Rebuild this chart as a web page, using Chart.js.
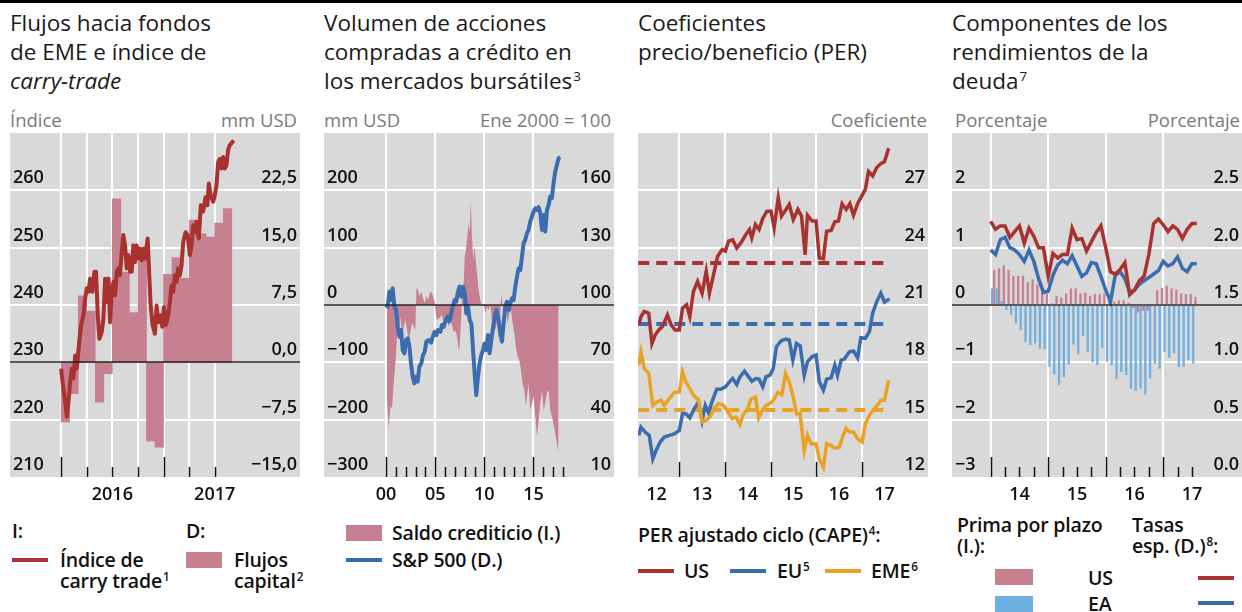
<!DOCTYPE html>
<html>
<head>
<meta charset="utf-8">
<script src="https://cdn.jsdelivr.net/npm/chart.js@4.4.1/dist/chart.umd.min.js"></script>
<style>
  html, body { margin: 0; padding: 0; background: #fff; }
  body { width: 1242px; height: 612px; position: relative; overflow: hidden; font-family: "Open Sans", sans-serif; color: #111; }
  .rule { position: absolute; left: 0; top: 0; width: 1242px; height: 3px; background: #000; }
  .title { position: absolute; top: 8px; font-size: 22.5px; line-height: 29px; color: #1a1a1a; white-space: nowrap; }
  .unit { position: absolute; top: 108px; font-size: 18.5px; line-height: 24px; color: #7a7a7a; white-space: nowrap; }
  canvas { position: absolute; top: 133px; }
  .leg { position: absolute; font-size: 19.5px; font-weight: 600; line-height: 21px; color: #111; white-space: nowrap; letter-spacing: -0.2px; }
  .sw { position: absolute; }
  sup { font-size: 0.6em; line-height: 0; vertical-align: baseline; position: relative; top: -0.6em; margin-left: 1px; }
</style>
</head>
<body>
<div class="rule"></div>

<div class="title" style="left:10px">Flujos hacia fondos<br>de EME e índice de<br><i>carry-trade</i></div>
<div class="title" style="left:324px">Volumen de acciones<br>compradas a crédito en<br>los mercados bursátiles<sup>3</sup></div>
<div class="title" style="left:638px">Coeficientes<br>precio/beneficio (PER)</div>
<div class="title" style="left:952px">Componentes de los<br>rendimientos de la<br>deuda<sup>7</sup></div>

<div class="unit" style="left:10px">Índice</div>
<div class="unit" style="right:945px">mm USD</div>
<div class="unit" style="left:324px">mm USD</div>
<div class="unit" style="right:631px">Ene 2000 = 100</div>
<div class="unit" style="right:315px">Coeficiente</div>
<div class="unit" style="left:955px">Porcentaje</div>
<div class="unit" style="right:2px">Porcentaje</div>

<canvas id="c1" width="290" height="377" style="left:10px"></canvas>
<canvas id="c2" width="290" height="377" style="left:324px"></canvas>
<canvas id="c3" width="290" height="377" style="left:638px"></canvas>
<canvas id="c4" width="290" height="377" style="left:952px"></canvas>

<!-- legends -->
<div class="leg" style="left:12px;top:520px">I:</div>
<div class="leg" style="left:186px;top:520px">D:</div>
<div class="sw" style="left:12px;top:558px;width:36px;height:4px;background:#a8322f"></div>
<div class="leg" style="left:60px;top:549px">Índice de<br>carry trade<sup>1</sup></div>
<div class="sw" style="left:186px;top:552px;width:36px;height:16px;background:#c6808f"></div>
<div class="leg" style="left:234px;top:549px">Flujos<br>capital<sup>2</sup></div>

<div class="sw" style="left:346px;top:525px;width:36px;height:16px;background:#c6808f"></div>
<div class="leg" style="left:392px;top:522px">Saldo crediticio (I.)</div>
<div class="sw" style="left:346px;top:558px;width:36px;height:4px;background:#3b6cb0"></div>
<div class="leg" style="left:392px;top:549px">S&amp;P 500 (D.)</div>

<div class="leg" style="left:638px;top:524px">PER ajustado ciclo (CAPE)<sup>4</sup>:</div>
<div class="sw" style="left:638px;top:569px;width:36px;height:4px;background:#a8322f"></div>
<div class="leg" style="left:684px;top:560px">US</div>
<div class="sw" style="left:730px;top:569px;width:36px;height:4px;background:#3b6cb0"></div>
<div class="leg" style="left:777px;top:560px">EU<sup>5</sup></div>
<div class="sw" style="left:825px;top:569px;width:36px;height:4px;background:#eaa224"></div>
<div class="leg" style="left:871px;top:560px">EME<sup>6</sup></div>

<div class="leg" style="left:957px;top:514px">Prima por plazo<br>(I.):</div>
<div class="leg" style="left:1132px;top:514px">Tasas<br>esp. (D.)<sup>8</sup>:</div>
<div class="sw" style="left:995px;top:569px;width:38px;height:16px;background:#c6808f"></div>
<div class="leg" style="left:1088px;top:567px">US</div>
<div class="sw" style="left:1198px;top:576px;width:36px;height:4px;background:#a8322f"></div>
<div class="sw" style="left:995px;top:596px;width:38px;height:16px;background:#6fb0e2"></div>
<div class="leg" style="left:1088px;top:593px">EA</div>
<div class="sw" style="left:1198px;top:601px;width:36px;height:4px;background:#3b6cb0"></div>

<script>
// ---- panel 1: EME fund flows (monthly, from Jan 2016) and carry-trade index ----
const flowValues = [-7.8, -4.1, 8.7, 6.7, -5.2, -1.5, 21.4, 11.8, 6.5, 14.5, -10.3, -11.1,
  11.5, 13.7, 11.0, 18.6, 16.8, 16.4, 18.2, 20.1];
// months since Jan 2016
const carryMonths = [0, 0.16, 0.47, 0.66, 0.86, 1.05, 1.25, 1.44, 1.64, 1.83,
  2.11, 2.34, 2.61, 2.81, 3.00, 3.20, 3.39, 3.66, 3.90, 4.09,
  4.29, 4.48, 4.76, 4.95, 5.15, 5.34, 5.54, 5.73, 5.93, 6.12,
  6.32, 6.51, 6.71, 6.90, 7.10, 7.29, 7.49, 7.68, 7.88, 8.07,
  8.27, 8.46, 8.66, 8.85, 9.05, 9.24, 9.44, 9.63, 9.83, 10.14,
  10.29, 10.49, 10.72, 10.99, 11.19, 11.38, 11.70, 11.85, 12.05, 12.28,
  12.55, 12.75, 12.94, 13.14, 13.33, 13.53, 13.72, 13.92, 14.11, 14.31,
  14.58, 14.82, 15.09, 15.28, 15.48, 15.67, 15.87, 16.14, 16.37, 16.65,
  16.92, 17.15, 17.31, 17.54, 17.82, 18.01, 18.21, 18.40, 18.60, 18.79,
  18.99, 19.18, 19.38, 19.57, 19.77, 19.96, 20.23];
const carryIndex = [228.9, 226.6, 223.1, 220.5, 223.1, 226.6, 228.9, 227.2, 231.2, 228.9,
  233.5, 236.5, 238.2, 241.1, 242.9, 242.3, 244.6, 242.3, 245.8, 245.8,
  238.2, 234.1, 235.3, 237.6, 244.6, 240.5, 244.6, 237.0, 242.3, 244.0,
  241.7, 245.8, 246.4, 245.2, 249.2, 252.2, 250.4, 246.4, 248.7, 245.8,
  245.8, 250.4, 247.5, 250.4, 248.1, 249.8, 247.8, 249.8, 248.1, 251.6,
  246.4, 239.9, 236.5, 235.0, 239.9, 237.0, 238.2, 236.2, 239.6, 236.5,
  238.2, 240.5, 243.4, 242.3, 245.2, 244.0, 246.4, 245.2, 246.9, 251.0,
  252.7, 252.2, 248.7, 250.4, 253.9, 252.7, 254.5, 251.6, 257.4, 256.3,
  258.8, 257.4, 261.2, 259.1, 258.0, 259.1, 260.9, 264.9, 265.5, 263.8,
  265.8, 263.8, 264.4, 267.0, 267.9, 268.2, 268.7];
const p1YearLabels = { 6: '2016', 18: '2017' };

// ---- panel 2: margin debt balance and S&P 500 ----
const marginYears = [2000.10, 2000.27, 2000.44, 2000.61, 2000.78, 2000.95, 2001.12, 2001.29, 2001.46,
  2001.63, 2001.80, 2001.97, 2002.14, 2002.31, 2002.48, 2002.65, 2002.82, 2002.98, 2003.09,
  2003.26, 2003.43, 2003.59, 2003.76, 2003.93, 2004.10, 2004.27, 2004.44, 2004.61, 2004.78,
  2004.95, 2005.09, 2005.25, 2005.42, 2005.69, 2005.86, 2006.03, 2006.20, 2006.37, 2006.54,
  2006.71, 2006.88, 2007.05, 2007.22, 2007.39, 2007.49, 2007.63, 2007.73, 2007.90, 2008.00,
  2008.13, 2008.27, 2008.40, 2008.51, 2008.64, 2008.74, 2008.88, 2009.01, 2009.15, 2009.29,
  2009.42, 2009.59, 2009.76, 2009.93, 2010.10, 2010.27, 2010.44, 2010.61, 2010.78, 2010.95,
  2011.12, 2011.28, 2011.45, 2011.62, 2011.72, 2011.86, 2012.03, 2012.20, 2012.37, 2012.54,
  2012.71, 2012.88, 2013.05, 2013.22, 2013.38, 2013.55, 2013.72, 2013.89, 2014.06, 2014.23,
  2014.33, 2014.50, 2014.67, 2014.84, 2015.01, 2015.18, 2015.35, 2015.52, 2015.69, 2015.86,
  2016.03, 2016.20, 2016.37, 2016.54, 2016.70, 2016.87, 2017.04, 2017.21, 2017.38, 2017.55];
const marginBalance = [-166, -215, -177, -180, -137, -102, -55, -49, -20,
  -55, -38, -26, -44, -61, -47, -32, -38, -44, 29,
  26, 15, 23, 12, 3, 15, 9, 20, 23, 15,
  6, -20, -26, -23, -17, -32, -38, -26, -38, -20,
  -35, -47, -44, -55, -79, -73, -26, 9, 38, 84,
  96, 119, 143, 125, 183, 119, 79, 102, 73, 49,
  26, 9, -3, 3, -15, -3, -9, 3, -32, -15,
  -44, -32, -61, -20, 20, -3, -20, -9, -32, -15,
  -9, -32, -49, -73, -90, -96, -113, -137, -148, -177,
  -160, -137, -183, -172, -160, -195, -230, -201, -172, -148,
  -183, -172, -154, -148, -183, -195, -207, -224, -241, -256];
const spYears = [2000.00, 2000.17, 2000.34, 2000.51, 2000.68, 2000.85, 2001.02, 2001.19, 2001.36, 2001.53,
  2001.70, 2001.87, 2002.04, 2002.21, 2002.38, 2002.54, 2002.71, 2002.88, 2003.05, 2003.22,
  2003.39, 2003.59, 2003.76, 2003.93, 2004.10, 2004.34, 2004.58, 2004.75, 2004.95, 2005.12,
  2005.29, 2005.53, 2005.69, 2005.86, 2006.03, 2006.27, 2006.44, 2006.64, 2006.78, 2006.98,
  2007.15, 2007.32, 2007.49, 2007.66, 2007.83, 2008.00, 2008.17, 2008.34, 2008.51, 2008.68,
  2008.85, 2009.01, 2009.18, 2009.35, 2009.52, 2009.69, 2009.86, 2010.03, 2010.20, 2010.37,
  2010.54, 2010.71, 2010.88, 2011.05, 2011.22, 2011.39, 2011.56, 2011.79, 2011.96, 2012.13,
  2012.30, 2012.47, 2012.64, 2012.81, 2012.98, 2013.15, 2013.32, 2013.49, 2013.66, 2013.83,
  2013.99, 2014.16, 2014.33, 2014.50, 2014.67, 2014.84, 2015.01, 2015.18, 2015.35, 2015.52,
  2015.69, 2015.86, 2016.03, 2016.20, 2016.37, 2016.54, 2016.70, 2016.87, 2017.04, 2017.21,
  2017.38, 2017.55, 2017.72];
const spIndex = [100.0, 99.1, 107.0, 102.6, 108.7, 99.1, 97.4, 88.6, 83.4, 86.9,
  76.4, 74.7, 81.7, 82.6, 78.2, 69.5, 62.5, 59.0, 62.5, 59.9,
  67.7, 69.5, 73.8, 75.5, 80.8, 81.7, 80.3, 83.4, 86.0, 84.3,
  86.9, 86.0, 89.5, 88.6, 91.3, 93.9, 91.3, 95.6, 99.1, 102.6,
  101.7, 107.0, 109.6, 104.3, 109.6, 106.1, 95.6, 99.1, 92.1, 90.4,
  76.4, 64.2, 52.9, 62.5, 69.5, 73.8, 76.4, 79.9, 76.4, 84.3,
  74.7, 81.7, 87.8, 93.9, 97.4, 93.9, 88.6, 80.8, 90.4, 99.1,
  101.7, 97.4, 100.9, 103.5, 102.6, 109.6, 114.8, 119.2, 118.3, 125.3,
  132.3, 134.0, 137.5, 139.3, 143.6, 146.2, 148.9, 150.6, 149.7, 151.2,
  148.0, 139.3, 147.1, 138.4, 149.7, 152.4, 156.7, 155.9, 163.7, 169.8,
  173.3, 176.8, 177.3];

// ---- panel 3: cyclically adjusted P/E ratios ----
const usYears = [2012.11, 2012.16, 2012.23, 2012.33, 2012.40, 2012.47, 2012.55, 2012.63, 2012.74, 2012.82, 2012.91,
  2013.00, 2013.07, 2013.16, 2013.23, 2013.31, 2013.40, 2013.50, 2013.59, 2013.66, 2013.75, 2013.84, 2013.94,
  2014.01, 2014.08, 2014.17, 2014.26, 2014.35, 2014.46, 2014.54, 2014.59, 2014.67, 2014.75, 2014.83, 2014.92,
  2015.01, 2015.08, 2015.17, 2015.24, 2015.34, 2015.41, 2015.50, 2015.60, 2015.68, 2015.76, 2015.81, 2015.91,
  2016.00, 2016.07, 2016.16, 2016.23, 2016.33, 2016.41, 2016.49, 2016.57, 2016.66, 2016.74, 2016.82, 2016.91,
  2017.02, 2017.08, 2017.15, 2017.24, 2017.33, 2017.42, 2017.50, 2017.59];
const usCape = [19.96, 20.39, 20.66, 20.57, 18.99, 19.43, 19.69, 19.87, 20.48, 19.96, 19.69,
  19.69, 20.83, 21.01, 20.39, 21.71, 22.23, 21.62, 22.76, 21.62, 22.58, 23.55, 23.90,
  23.81, 24.34, 24.42, 23.98, 24.25, 24.69, 24.95, 24.51, 25.21, 24.95, 25.53, 25.91,
  25.91, 25.04, 26.61, 25.65, 26.00, 26.26, 25.47, 26.00, 25.65, 23.63, 25.70, 25.39,
  25.39, 23.46, 23.42, 24.86, 24.90, 25.35, 25.39, 26.30, 26.00, 26.30, 25.70, 26.30,
  26.79, 27.05, 27.98, 27.75, 28.19, 28.40, 28.50, 29.20];
const euYears = [2012.11, 2012.16, 2012.25, 2012.34, 2012.42, 2012.49, 2012.58, 2012.67, 2012.78, 2012.89,
  2013.00, 2013.07, 2013.15, 2013.23, 2013.33, 2013.42, 2013.50, 2013.57, 2013.64, 2013.73, 2013.82, 2013.91,
  2014.01, 2014.10, 2014.17, 2014.26, 2014.33, 2014.43, 2014.52, 2014.59, 2014.68, 2014.75, 2014.83, 2014.90, 2014.99,
  2015.06, 2015.13, 2015.23, 2015.33, 2015.41, 2015.49, 2015.57, 2015.65, 2015.74, 2015.81, 2015.91,
  2016.00, 2016.07, 2016.16, 2016.23, 2016.33, 2016.41, 2016.47, 2016.55, 2016.62, 2016.73, 2016.82, 2016.91, 2016.98,
  2017.08, 2017.17, 2017.24, 2017.33, 2017.42, 2017.50, 2017.61];
const euCape = [14.18, 14.61, 14.35, 14.18, 12.95, 13.39, 13.83, 14.09, 14.18, 14.26,
  14.44, 15.31, 15.31, 15.09, 15.58, 15.93, 14.96, 15.75, 15.37, 16.02, 16.59, 16.59,
  16.72, 16.98, 17.15, 16.84, 17.24, 17.54, 17.24, 17.01, 17.15, 17.12, 16.72, 17.24, 17.33,
  17.68, 18.82, 19.12, 19.22, 19.17, 18.12, 18.99, 18.87, 17.33, 18.03, 18.29,
  18.38, 16.98, 16.54, 17.12, 17.19, 17.85, 17.33, 18.12, 18.17, 18.55, 18.59, 18.24, 19.29,
  19.26, 19.61, 20.57, 21.18, 21.62, 21.15, 21.32];
const emeYears = [2012.11, 2012.16, 2012.23, 2012.33, 2012.42, 2012.50, 2012.60, 2012.67, 2012.78, 2012.89,
  2013.00, 2013.07, 2013.15, 2013.23, 2013.31, 2013.42, 2013.50, 2013.59, 2013.67, 2013.77, 2013.86, 2013.97,
  2014.06, 2014.16, 2014.24, 2014.33, 2014.40, 2014.50, 2014.57, 2014.67, 2014.74, 2014.81, 2014.90, 2014.99,
  2015.06, 2015.16, 2015.25, 2015.33, 2015.41, 2015.49, 2015.57, 2015.65, 2015.74, 2015.81, 2015.89,
  2016.00, 2016.07, 2016.16, 2016.23, 2016.33, 2016.41, 2016.51, 2016.58, 2016.66, 2016.73, 2016.82, 2016.91,
  2017.01, 2017.08, 2017.17, 2017.25, 2017.33, 2017.42, 2017.50, 2017.59];
const emeCape = [17.85, 18.55, 17.68, 17.42, 15.75, 15.93, 16.02, 15.75, 16.10, 16.42,
  16.45, 17.50, 16.94, 16.63, 16.28, 16.02, 14.88, 14.96, 15.14, 15.61, 15.84, 15.75,
  15.44, 15.05, 15.14, 14.74, 15.26, 15.58, 16.07, 16.19, 15.09, 15.44, 15.75, 15.84,
  16.02, 16.42, 16.31, 17.42, 16.98, 16.28, 15.31, 15.31, 13.39, 14.18, 13.74,
  13.74, 12.95, 12.51, 13.74, 13.65, 13.51, 13.56, 14.09, 14.56, 14.35, 14.35, 14.00,
  13.83, 14.79, 15.23, 15.49, 15.72, 16.02, 16.02, 17.07];
const capeAverages = { us: 23.2, eu: 20.0, eme: 15.5 };
const capeAvgSpan = [2012.1, 2017.6];
const p3YearLabels = { 2012.5: '12', 2013.5: '13', 2014.5: '14', 2015.5: '15', 2016.5: '16', 2017.5: '17' };

// ---- panel 4: bond yield components (monthly from Jan 2014) ----
const termUS = [0.61, 0.64, 0.69, 0.61, 0.51, 0.51, 0.51, 0.40, 0.45, 0.36,
  0.28, 0.20, 0.03, 0.16, 0.13, 0.20, 0.29, 0.29, 0.20, 0.22,
  0.16, 0.19, 0.19, 0.20, 0.07, 0.06, 0.08, 0.08, 0.04, -0.05,
  -0.13, -0.10, -0.10, 0.00, 0.26, 0.30, 0.33, 0.29, 0.27, 0.20,
  0.19, 0.19, 0.14];
const termEA = [0.29, 0.29, 0.07, -0.09, -0.17, -0.32, -0.44, -0.65, -0.70, -0.67,
  -0.76, -0.77, -1.08, -1.21, -1.40, -1.26, -1.04, -0.69, -0.86, -0.54,
  -0.82, -1.00, -1.05, -0.75, -0.99, -1.05, -1.29, -1.17, -1.22, -1.46,
  -1.50, -1.46, -1.56, -1.28, -1.02, -1.11, -0.82, -0.92, -0.84, -1.08,
  -1.08, -0.96, -1.02];
const rateUS = [2.23, 2.16, 2.19, 2.19, 2.09, 2.14, 2.19, 2.04, 2.17, 2.10,
  2.00, 2.00, 1.75, 1.95, 1.91, 1.94, 1.94, 2.17, 2.07, 2.08,
  1.97, 2.05, 2.13, 2.19, 2.00, 1.79, 1.77, 1.81, 1.87, 1.59,
  1.63, 1.71, 1.75, 1.94, 2.21, 2.25, 2.20, 2.14, 2.19, 2.16,
  2.08, 2.16, 2.21, 2.21];
const rateEA = [1.98, 1.94, 2.07, 2.09, 2.00, 1.98, 1.94, 1.88, 1.98, 1.88,
  1.73, 1.61, 1.62, 1.76, 1.85, 1.89, 1.86, 1.93, 1.84, 1.75,
  1.78, 1.87, 1.86, 1.75, 1.63, 1.53, 1.76, 1.79, 1.73, 1.61,
  1.63, 1.68, 1.71, 1.74, 1.77, 1.80, 1.88, 1.84, 1.86, 1.92,
  1.82, 1.79, 1.86, 1.86];
const p4Start = 2014;

// ---- styling ----
const RED = '#a8322f', BLUE = '#3b6cb0', ORANGE = '#eaa224', PINK = '#c6808f', LBLUE = '#6fb0e2';
const PANEL_BG = '#d9d9d9';
const tickFont = { size: 18, weight: '600' };
Chart.defaults.font.family = "'Open Sans', sans-serif";
Chart.defaults.animation = false;

const minus = s => String(s).replace('-', '\u2212');

// grey plot background, inner tick marks and zero line
const panelDecor = {
  id: 'panelDecor',
  beforeDraw(chart) {
    const { ctx, chartArea: a } = chart;
    ctx.save();
    ctx.fillStyle = PANEL_BG;
    ctx.fillRect(a.left, a.top, a.right - a.left, a.bottom - a.top);
    ctx.restore();
  },
  afterDatasetsDraw(chart, args, opts) {
    const { ctx, chartArea: a } = chart;
    const xs = chart.scales.x;
    ctx.save();
    ctx.strokeStyle = '#111';
    ctx.lineWidth = 1.5;
    (opts.marks || []).forEach(([v, len]) => {
      const px = Math.round(xs.getPixelForValue(v)) + 0.5;
      ctx.beginPath();
      ctx.moveTo(px, a.bottom);
      ctx.lineTo(px, a.bottom - len);
      ctx.stroke();
    });
    if (opts.zero) {
      const py = Math.round(chart.scales[opts.zero.axis].getPixelForValue(opts.zero.value));
      ctx.strokeStyle = '#222';
      ctx.lineWidth = 1.6;
      ctx.beginPath();
      ctx.moveTo(a.left, py);
      ctx.lineTo(a.right, py);
      ctx.stroke();
    }
    ctx.restore();
  }
};

const noPad = s => { s.paddingTop = 0; s.paddingBottom = 0; s.paddingLeft = 0; s.paddingRight = 0; };

function yAxis(pos, min, max, step, fmt, withGrid) {
  return {
    type: 'linear', position: pos, min, max,
    afterFit: s => { s.width = 0; noPad(s); },
    border: { display: false },
    grid: withGrid
      ? { drawTicks: false, lineWidth: 2, color: c => (c.tick.value === min || c.tick.value === max) ? 'rgba(0,0,0,0)' : '#ffffff' }
      : { display: false, drawTicks: false },
    // mirrored labels sit inside the plot, just above their grid line
    ticks: { stepSize: step, mirror: true, padding: pos === 'right' ? -3 : 3, labelOffset: -12, color: '#111', font: tickFont,
      callback: v => v === max ? '' : fmt(v) }
  };
}

function xAxis(min, max, tickVals, label, gridAt) {
  return {
    type: 'linear', min, max, offset: false,
    afterBuildTicks: s => { s.ticks = tickVals.map(v => ({ value: v })); },
    afterFit: s => { s.height = 33; noPad(s); },
    border: { display: false },
    grid: { offset: false, drawTicks: false, lineWidth: 2, color: c => gridAt(c.tick.value) ? '#ffffff' : 'rgba(0,0,0,0)' },
    ticks: { autoSkip: false, maxRotation: 0, padding: 7, color: '#111', font: tickFont, callback: v => label(v) }
  };
}

function makeChart(id, datasets, scales, decor) {
  return new Chart(document.getElementById(id), {
    type: 'bar',
    data: { datasets },
    options: {
      responsive: false, animation: false,
      layout: { padding: 0 },
      plugins: { legend: { display: false }, tooltip: { enabled: false }, panelDecor: decor },
      scales
    },
    plugins: [panelDecor]
  });
}

const range = (a, b, st) => { const r = []; for (let v = a; v <= b + 1e-9; v += st) r.push(+v.toFixed(2)); return r; };

// panel 1
makeChart('c1', [
  { type: 'line', data: carryMonths.map((m, i) => ({ x: m, y: carryIndex[i] })), yAxisID: 'y',
    borderColor: RED, borderWidth: 4, pointRadius: 0, borderJoinStyle: 'round', order: 0 },
  { type: 'bar', data: flowValues.map((v, i) => ({ x: i + 0.5, y: v })), yAxisID: 'y2',
    backgroundColor: PINK, borderWidth: 0, barPercentage: 1, categoryPercentage: 1, order: 1 }
], {
  x: xAxis(-6, 28, range(0, 18, 3), v => p1YearLabels[v] || '', v => true),
  y: yAxis('left', 210, 270, 10, v => String(v), true),
  y2: yAxis('right', -15, 30, 7.5, v => minus(v.toFixed(1).replace('.', ',')), false)
}, {
  marks: range(0, 18, 3).map(v => [v, v % 12 === 0 ? 20 : 10]),
  zero: { axis: 'y', value: 230 }
});

// panel 2
makeChart('c2', [
  { type: 'line', data: spYears.map((x, i) => ({ x, y: spIndex[i] })), yAxisID: 'y2',
    borderColor: BLUE, borderWidth: 4, pointRadius: 0, borderJoinStyle: 'round', order: 0 },
  { type: 'line', data: marginYears.map((x, i) => ({ x, y: marginBalance[i] })), yAxisID: 'y',
    backgroundColor: PINK, borderColor: PINK, borderWidth: 0, pointRadius: 0, fill: 'origin', order: 1 }
], {
  x: xAxis(1993.69, 2023.19, [2000, 2005, 2010, 2015], v => String(v).slice(2), v => true),
  y: yAxis('left', -300, 300, 100, v => minus(v), true),
  y2: yAxis('right', 10, 190, 30, v => String(v), false)
}, {
  marks: range(2000, 2018, 1).map(v => [v, v % 5 === 0 ? 20 : 10]),
  zero: { axis: 'y', value: 0 }
});

// panel 3
const flat = v => capeAvgSpan.map(x => ({ x, y: v }));
makeChart('c3', [
  { type: 'line', data: usYears.map((x, i) => ({ x, y: usCape[i] })), borderColor: RED, borderWidth: 3.5, pointRadius: 0, order: 0 },
  { type: 'line', data: emeYears.map((x, i) => ({ x, y: emeCape[i] })), borderColor: ORANGE, borderWidth: 3.5, pointRadius: 0, order: 1 },
  { type: 'line', data: euYears.map((x, i) => ({ x, y: euCape[i] })), borderColor: BLUE, borderWidth: 3.5, pointRadius: 0, order: 2 },
  { type: 'line', data: flat(capeAverages.us), borderColor: RED, borderWidth: 4, borderDash: [11, 7], pointRadius: 0, order: 3 },
  { type: 'line', data: flat(capeAverages.eu), borderColor: BLUE, borderWidth: 4, borderDash: [11, 7], pointRadius: 0, order: 3 },
  { type: 'line', data: flat(capeAverages.eme), borderColor: ORANGE, borderWidth: 4, borderDash: [11, 7], pointRadius: 0, order: 3 }
], {
  x: xAxis(2012.094, 2018.454, range(2012.5, 2017.5, 0.5), v => p3YearLabels[v] || '', v => Number.isInteger(v)),
  y: yAxis('right', 12, 30, 3, v => String(v), true)
}, {
  marks: range(2013, 2017, 1).map(v => [v, 15])
});

// panel 4
const monthX = i => p4Start + i / 12;
makeChart('c4', [
  { type: 'line', data: rateUS.map((v, i) => ({ x: monthX(i), y: v })), yAxisID: 'y2',
    borderColor: RED, borderWidth: 3.5, pointRadius: 0, order: 0 },
  { type: 'line', data: rateEA.map((v, i) => ({ x: monthX(i), y: v })), yAxisID: 'y2',
    borderColor: BLUE, borderWidth: 3.5, pointRadius: 0, order: 1 },
  { type: 'bar', data: termUS.map((v, i) => ({ x: monthX(i + 0.5), y: v })), yAxisID: 'y',
    backgroundColor: PINK, borderWidth: 0, barPercentage: 1, categoryPercentage: 0.95, order: 3 },
  { type: 'bar', data: termEA.map((v, i) => ({ x: monthX(i + 0.5), y: v })), yAxisID: 'y',
    backgroundColor: LBLUE, borderWidth: 0, barPercentage: 1, categoryPercentage: 0.95, order: 2 }
], {
  x: xAxis(2013.327, 2018.37, range(2014, 2017.5, 0.5), v => v % 1 === 0.5 ? String(Math.floor(v)).slice(2) : '', v => Number.isInteger(v)),
  y: yAxis('left', -3, 3, 1, v => minus(v), true),
  y2: yAxis('right', 0, 3, 0.5, v => v.toFixed(1), false)
}, {
  marks: range(2014, 2017.5, 0.25).map(v => [v, Number.isInteger(v) ? 20 : 10]),
  zero: { axis: 'y', value: 0 }
});
</script>
</body>
</html>
